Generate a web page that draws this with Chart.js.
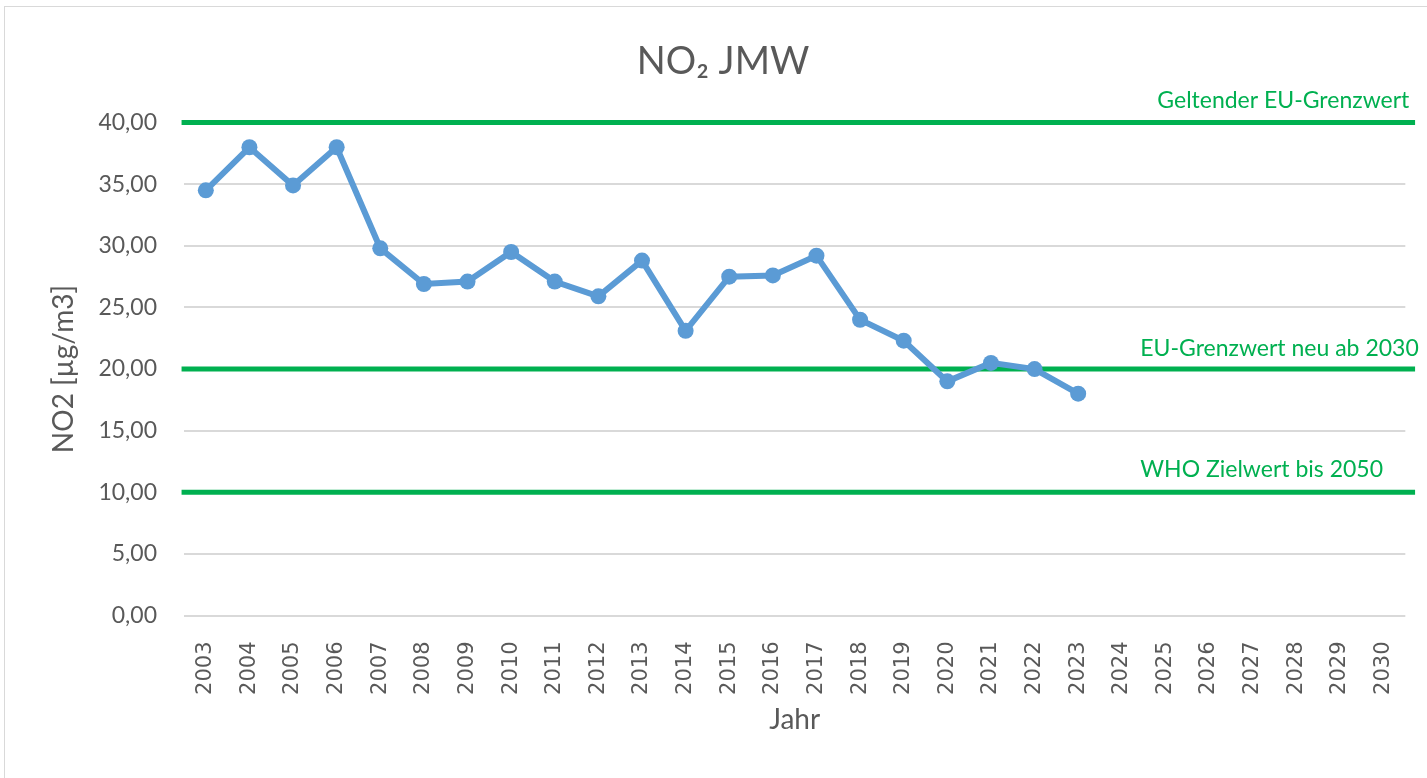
<!DOCTYPE html>
<html>
<head>
<meta charset="utf-8">
<script src="https://cdn.jsdelivr.net/npm/chart.js@4"></script>
<style>
  body { margin: 0; background: #fff; }
  #wrap { width: 1427px; height: 778px; position: relative; }
</style>
</head>
<body>
<div id="wrap"><canvas id="no2Chart" width="1427" height="778"></canvas></div>
<script>
// Jahreswerte
const years = ['2003', '2004', '2005', '2006', '2007', '2008', '2009', '2010', '2011', '2012',
    '2013', '2014', '2015', '2016', '2017', '2018', '2019', '2020', '2021', '2022',
    '2023', '2024', '2025', '2026', '2027', '2028', '2029', '2030'];
const no2Values = [34.5, 38.0, 34.9, 38.0, 29.8, 26.9, 27.1, 29.5, 27.1, 25.9,
    28.8, 23.1, 27.5, 27.6, 29.2, 24.0, 22.3, 19.0, 20.5, 20.0,
    18.0, null, null, null, null, null, null, null];

// Grenzwerte
const limitValues = [40, 20, 10];
const limitLabels = ['Geltender EU-Grenzwert', 'EU-Grenzwert neu ab 2030', 'WHO Zielwert bis 2050'];

const grey = '#595959';
const green = '#00B050';
const fontFamily = 'Lato, "Open Sans", sans-serif';

// limit lines run a bit past the plot area, like in the original
const limitDatasets = limitValues.map(function (v, i) {
    return {
        label: limitLabels[i],
        xAxisID: 'xRef',
        data: [{ x: -0.002, y: v }, { x: 1.008, y: v }],
        borderColor: green,
        borderWidth: 5,
        pointRadius: 0,
        clip: false,
        order: 2
    };
});

// text above each limit line
const limitTextPlugin = {
    id: 'limitText',
    afterDatasetsDraw: function (chart) {
        const ctx = chart.ctx;
        const y = chart.scales.y;
        const area = chart.chartArea;
        ctx.save();
        ctx.fillStyle = green;
        ctx.font = '23px ' + fontFamily;
        ctx.textBaseline = 'middle';
        ctx.textAlign = 'right';
        ctx.fillText(limitLabels[0], area.right + 4, y.getPixelForValue(limitValues[0]) - 22);
        ctx.textAlign = 'left';
        ctx.fillText(limitLabels[1], area.right - 265, y.getPixelForValue(limitValues[1]) - 20);
        ctx.fillText(limitLabels[2], area.right - 265, y.getPixelForValue(limitValues[2]) - 23);
        ctx.restore();
    }
};

// light frame around the chart
const framePlugin = {
    id: 'frame',
    beforeDraw: function (chart) {
        const ctx = chart.ctx;
        ctx.save();
        ctx.fillStyle = '#fff';
        ctx.fillRect(0, 0, chart.width, chart.height);
        ctx.strokeStyle = '#d9d9d9';
        ctx.lineWidth = 1;
        ctx.strokeRect(4.5, 6.5, chart.width, chart.height);
        ctx.restore();
    }
};

const ctx = document.getElementById('no2Chart').getContext('2d');
new Chart(ctx, {
    type: 'line',
    data: {
        labels: years,
        datasets: [{
            label: 'NO2',
            data: no2Values,
            borderColor: '#5B9BD5',
            backgroundColor: '#5B9BD5',
            borderWidth: 6,
            pointRadius: 8,
            pointBorderWidth: 0,
            pointBackgroundColor: '#5B9BD5',
            order: 1
        }].concat(limitDatasets)
    },
    options: {
        responsive: false,
        animation: false,
        layout: {
            padding: { left: 36, right: 17, top: 0, bottom: 39 }
        },
        plugins: {
            legend: { display: false },
            tooltip: { enabled: false },
            title: {
                display: true,
                text: 'NO₂ JMW',
                color: grey,
                font: { family: fontFamily, size: 38, weight: 'normal' },
                padding: { top: 39, bottom: 38 }
            }
        },
        scales: {
            x: {
                type: 'category',
                offset: true,
                grid: { display: false },
                border: { display: false },
                ticks: {
                    color: grey,
                    font: { family: '"DejaVu Sans", sans-serif', size: 21 },
                    maxRotation: 90,
                    minRotation: 90,
                    padding: 18,
                    autoSkip: false
                },
                title: {
                    display: true,
                    text: 'Jahr',
                    color: grey,
                    font: { family: fontFamily, size: 28 },
                    padding: { top: 10, bottom: 2 }
                },
                afterFit: function (scale) { scale.height = 123.5; }
            },
            xRef: {
                type: 'linear',
                display: false,
                min: 0,
                max: 1
            },
            y: {
                min: 0,
                max: 40,
                grid: { color: '#d9d9d9', lineWidth: 2, drawTicks: false },
                border: { display: false },
                ticks: {
                    stepSize: 5,
                    color: grey,
                    font: { family: fontFamily, size: 23 },
                    padding: 27,
                    callback: function (v) { return v.toFixed(2).replace('.', ','); }
                },
                title: {
                    display: true,
                    text: 'NO2 [µg/m3]',
                    color: grey,
                    font: { family: fontFamily, size: 28 },
                    padding: { top: 11, bottom: 0 }
                },
                afterFit: function (scale) { scale.width = 148; }
            }
        }
    },
    plugins: [framePlugin, limitTextPlugin]
});
</script>
</body>
</html>
